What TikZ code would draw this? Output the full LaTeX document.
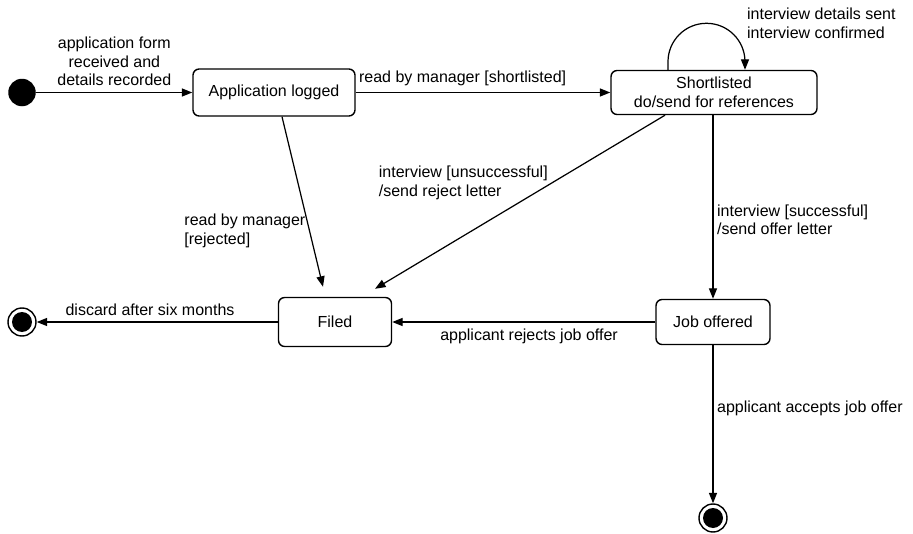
\documentclass[tikz,border=0pt]{standalone}
\usepackage{fontspec}
\setmainfont{Liberation Sans}
\usetikzlibrary{arrows.meta,calc}

\begin{document}
\begin{tikzpicture}[
  font=\fontsize{9.1}{10.5}\selectfont, >={Triangle[length=6pt,width=4.6pt]},
  every path/.style={line width=0.7pt},
  state/.style={draw, rounded corners=3.5pt, align=center, inner sep=2pt, line width=0.8pt},
  startstate/.style={circle, fill=black, minimum size=0.55cm, inner sep=0pt},
  endstate/.style={circle, draw, fill=white, minimum size=0.56cm, inner sep=0pt, line width=0.8pt,
                   path picture={\fill[black] (path picture bounding box.center) circle (0.2cm);}},
  lbl/.style={align=left, inner sep=2pt}]
\useasboundingbox (0,0) rectangle (18.26,-10.68);
% ---------------- states (absolute positions, cm)
\node[startstate] (init) at (0.44,-1.85) {};
\node[state, minimum width=3.24cm, minimum height=0.94cm] (applog) at (5.48,-1.85) {Application logged};
\node[state, minimum width=4.12cm, minimum height=0.88cm] (short) at (14.28,-1.85) {Shortlisted\\do/send for references};
\node[state, minimum width=2.26cm, minimum height=0.98cm] (filed) at (6.70,-6.44) {Filed};
\node[state, minimum width=2.28cm, minimum height=0.90cm] (job) at (14.26,-6.44) {Job offered};
\node[endstate] (endL) at (0.44,-6.44) {};
\node[endstate] (endB) at (14.26,-10.36) {};
% ---------------- transitions
\draw[->] (init) -- node[above, align=center] {application form\\received and\\details recorded} (applog);
\draw[->] (applog) -- node[pos=0.42, above] {read by manager [shortlisted]} (short);
\draw[->] ([xshift=-0.92cm]short.north) -- ++(0,0.16) arc[start angle=180, end angle=0, radius=0.77cm]
      -- ([xshift=0.62cm]short.north);
\node[lbl, anchor=north west] (loop) at (14.86,-0.08) {interview details sent\\interview confirmed};
\draw[->] ([xshift=0.16cm]applog.south) -- node[pos=0.67, left, lbl] {read by manager\\{[rejected]}}
      ([xshift=-0.24cm, yshift=0.2cm]filed.north);
\draw[->] ([xshift=-0.98cm]short.south) -- node[pos=0.39, left, lbl] {interview [unsuccessful]\\/send reject letter}
      ([xshift=0.8cm, yshift=0.16cm]filed.north);
\draw[->] (short.south -| job.north) -- node[pos=0.57, right, lbl] {interview [successful]\\/send offer letter} (job.north);
\draw[->] (job) -- node[pos=0.48, below] {applicant rejects job offer} (filed);
\draw[->] (filed) -- node[pos=0.53, above] {discard after six months} (endL);
\draw[->] (job) -- node[pos=0.4, right, lbl] {applicant accepts job offer} (endB);
\end{tikzpicture}
\end{document}
